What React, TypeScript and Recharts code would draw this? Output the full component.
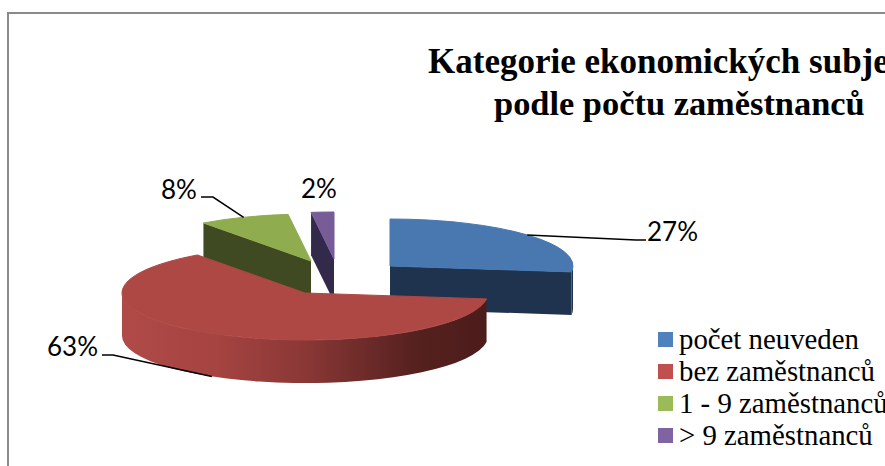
import { PieChart, Pie, Legend } from 'recharts';

const categories = ['počet neuveden', 'bez zaměstnanců', '1 - 9 zaměstnanců', '> 9 zaměstnanců'];
const shares = [27, 63, 8, 2];
const legendColors = ['#4F81BD', '#C0504D', '#9BBB59', '#8064A2'];
const topColors = ['#4878AF', '#AE4845', '#8FAD4F', '#775C98'];
const wallColors = ['#1F334F', 'url(#redWall)', '#3F4A22', '#33294A'];

// how far each slice is pulled out of the pie, in px
const explodeX = [51, -34, -28, -5];
const explodeY = [-18, 9, -23, -25];

const chartData = categories.map((name, i) => ({ name, value: shares[i], fill: legendColors[i] }));

const WIDTH = 885;
const HEIGHT = 466;
const RADIUS = 183;
const TILT = 47 / 183;
const DEPTH = 43;
const RED = 1;

const rim = (x: number, y: number, deg: number, r = RADIUS) => {
    const a = (deg * Math.PI) / 180;
    return { x: x + r * Math.sin(a), y: y - r * TILT * Math.cos(a) };
};

function drawSlice(props: any) {
    const { cx, cy, startAngle, endAngle, index } = props;
    // recharts angles -> clockwise from 12 o'clock
    const from = 90 - startAngle;
    const to = 90 - endAngle;
    const x = cx + explodeX[index];
    const y = cy + explodeY[index];
    const ry = RADIUS * TILT;
    const a = rim(x, y, from);
    const b = rim(x, y, to);
    const large = to - from > 180 ? 1 : 0;
    const sin = (d: number) => Math.sin((d * Math.PI) / 180);

    const walls: string[] = [];
    if (sin(from) < -0.001) {
        walls.push(`M${x},${y}L${a.x},${a.y}L${a.x},${a.y + DEPTH}L${x},${y + DEPTH}Z`);
    }
    if (sin(to) > 0.001) {
        walls.push(`M${x},${y}L${b.x},${b.y}L${b.x},${b.y + DEPTH}L${x},${y + DEPTH}Z`);
    }
    const f1 = Math.max(from, 90);
    const f2 = Math.min(to, 270);
    let front = '';
    if (f2 > f1) {
        const p = rim(x, y, f1);
        const q = rim(x, y, f2);
        front = `M${p.x},${p.y}A${RADIUS},${ry} 0 0 1 ${q.x},${q.y}L${q.x},${q.y + DEPTH}A${RADIUS},${ry} 0 0 0 ${p.x},${p.y + DEPTH}Z`;
    }

    return (
        <g>
            <defs>
                <linearGradient id="redWall" x1="0" y1="0" x2="1" y2="0">
                    <stop offset="0" stopColor="#AF4A47" />
                    <stop offset="0.25" stopColor="#A64441" />
                    <stop offset="0.5" stopColor="#8A3836" />
                    <stop offset="0.8" stopColor="#56211F" />
                    <stop offset="1" stopColor="#4C1C1A" />
                </linearGradient>
            </defs>
            {walls.map((d, i) => (
                <path key={i} d={d} fill={index === RED ? '#4C1C1A' : wallColors[index]} />
            ))}
            {front && <path d={front} fill={wallColors[index]} />}
            <path
                d={`M${x},${y}L${a.x},${a.y}A${RADIUS},${ry} 0 ${large} 1 ${b.x},${b.y}Z`}
                fill={topColors[index]}
                stroke={topColors[index]}
                strokeWidth={1}
            />
        </g>
    );
}

const backSlice = (props: any) => (props.index === RED ? <g /> : drawSlice(props));
const redSlice = (props: any) => (props.index === RED ? drawSlice(props) : <g />);

// text anchor and leader elbow for each percent label
const labelX = [647, 47, 161, 301];
const labelY = [241, 356, 199, 198];
const elbowX = [636, 113, 213, 0];
const elbowEndX = [646, 102, 201, 0];
const elbowY = [240, 355, 197, 0];

function drawLabel(props: any) {
    const { index, cx, cy, midAngle, value } = props;
    const p = rim(cx + explodeX[index], cy + explodeY[index], 90 - midAngle);
    const startY = index === RED ? p.y + DEPTH : p.y;
    return (
        <g>
            {elbowX[index] > 0 && (
                <polyline
                    points={`${p.x},${startY} ${elbowX[index]},${elbowY[index]} ${elbowEndX[index]},${elbowY[index]}`}
                    fill="none"
                    stroke="#000"
                    strokeWidth={1.5}
                />
            )}
            <text x={labelX[index]} y={labelY[index]} fontFamily="Lato" fontSize={26} fill="#000">
                {value}%
            </text>
        </g>
    );
}

function LegendBox({ payload }: any) {
    // both pies report their slices, keep each name once
    const items = (payload || []).filter((item: any, i: number, all: any[]) => all.findIndex((o) => o.value === item.value) === i);
    return (
        <div style={{ fontFamily: '"Liberation Serif"', fontSize: 28.8, color: '#000', whiteSpace: 'nowrap' }}>
            {items.map((item: any) => (
                <div key={item.value} style={{ height: 32, lineHeight: '32px', display: 'flex', alignItems: 'center' }}>
                    <span style={{ width: 15, height: 15, background: item.color, marginRight: 6, flex: 'none' }} />
                    {item.value}
                </div>
            ))}
        </div>
    );
}

export default function App() {
    return (
        <div style={{ position: 'absolute', left: 0, top: 0, width: WIDTH, height: HEIGHT, overflow: 'hidden', background: '#fff' }}>
            <div style={{ position: 'absolute', left: 7, top: 12, width: 1000, height: 1000, border: '2px solid #8a8a8a' }} />
            <div style={{ position: 'absolute', left: 428, top: 41, whiteSpace: 'nowrap', fontFamily: '"Liberation Serif"', fontWeight: 'bold', fontSize: 35, lineHeight: '42px', color: '#000' }}>
                Kategorie ekonomických subjektů
            </div>
            <div style={{ position: 'absolute', left: 494, top: 82, whiteSpace: 'nowrap', fontFamily: '"Liberation Serif"', fontWeight: 'bold', fontSize: 34.4, lineHeight: '42px', color: '#000' }}>
                podle počtu zaměstnanců
            </div>
            <PieChart width={WIDTH} height={HEIGHT} margin={{ top: 0, right: 0, bottom: 0, left: 0 }} style={{ position: 'absolute', left: 0, top: 0 }}>
                <Pie
                    data={chartData}
                    dataKey="value"
                    nameKey="name"
                    cx={339}
                    cy={284}
                    outerRadius={RADIUS}
                    startAngle={90}
                    endAngle={-270}
                    shape={backSlice}
                    stroke="none"
                    isAnimationActive={false}
                />
                <Pie
                    data={chartData}
                    dataKey="value"
                    nameKey="name"
                    cx={339}
                    cy={284}
                    outerRadius={RADIUS}
                    startAngle={90}
                    endAngle={-270}
                    shape={redSlice}
                    stroke="none"
                    legendType="none"
                    label={drawLabel}
                    labelLine={false}
                    isAnimationActive={false}
                />
                <Legend
                    content={LegendBox}
                    layout="vertical"
                    itemSorter={null}
                    wrapperStyle={{ position: 'absolute', left: 658, top: 323, width: 240, height: 130 }}
                />
            </PieChart>
        </div>
    );
}
